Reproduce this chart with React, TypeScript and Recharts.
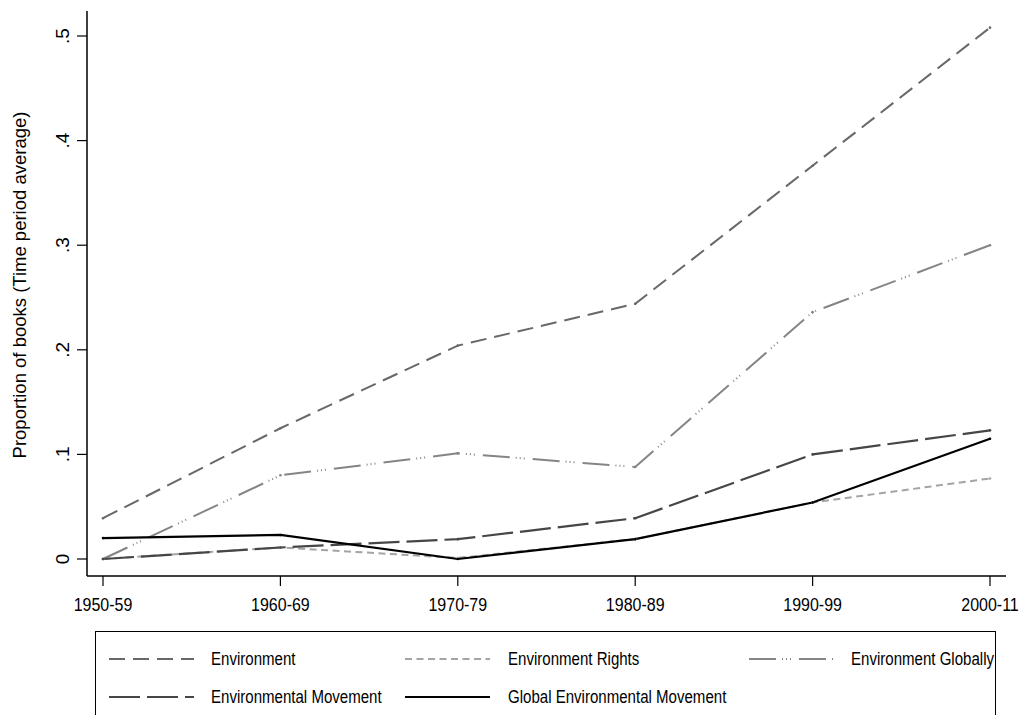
import React from 'react';
import { LineChart, Line, XAxis, YAxis, Legend } from 'recharts';

const periods = ['1950-59', '1960-69', '1970-79', '1980-89', '1990-99', '2000-11'];
const environment = [0.039, 0.125, 0.204, 0.244, 0.376, 0.508];
const environmentRights = [0, 0.011, 0.001, 0.019, 0.054, 0.077];
const environmentGlobally = [0, 0.08, 0.101, 0.088, 0.236, 0.3];
const environmentalMovement = [0, 0.011, 0.019, 0.039, 0.1, 0.123];
const globalEnvironmentalMovement = [0.02, 0.023, 0, 0.019, 0.054, 0.115];
const yTicks = [0, 0.1, 0.2, 0.3, 0.4, 0.5];

const data = periods.map((p, i) => ({
  period: p,
  env: environment[i],
  rights: environmentRights[i],
  globally: environmentGlobally[i],
  movement: environmentalMovement[i],
  globalMovement: globalEnvironmentalMovement[i],
}));

const FONT = "'Liberation Sans', Arial, sans-serif";

const series = [
  { key: 'env', name: 'Environment', color: '#686868', dash: '16 8', width: 2 },
  { key: 'rights', name: 'Environment Rights', color: '#a4a4a4', dash: '7 4.5', width: 2 },
  { key: 'globally', name: 'Environment Globally', color: '#858585', dash: '27 6 1 3 1 3 1 8', width: 2 },
  { key: 'movement', name: 'Environmental Movement', color: '#464646', dash: '31 7', width: 2.2 },
  { key: 'globalMovement', name: 'Global Environmental Movement', color: '#000000', dash: undefined, width: 2.2 },
];

const legendPos = [
  { sx: 13, tx: 115, row: 0 },
  { sx: 309, tx: 412, row: 0 },
  { sx: 653, tx: 755, row: 0 },
  { sx: 13, tx: 115, row: 1 },
  { sx: 309, tx: 412, row: 1 },
];
const rowY = [28, 66];

const fmt = (v: number) => (v === 0 ? '0' : String(v).replace('0.', '.'));

const XTick = (props: any) => {
  const { x, y, payload } = props;
  return (
    <text
      x={0}
      y={0}
      transform={`translate(${x}, ${y}) scale(0.865, 1)`}
      textAnchor="middle"
      dy="0.71em"
      fontSize={18.5}
      fontFamily={FONT}
      fill="#000"
    >
      {payload.value}
    </text>
  );
};

const YTick = (props: any) => {
  const { y, payload } = props;
  const cx = 62;
  return (
    <text
      x={0}
      y={0}
      transform={`translate(${cx}, ${y}) rotate(-90)`}
      textAnchor="middle"
      dy="0.36em"
      fontSize={19}
      fontFamily={FONT}
      fill="#000"
    >
      {fmt(payload.value)}
    </text>
  );
};

const YLabel = () => (
  <text
    x={0}
    y={0}
    transform="translate(19.5, 285) rotate(-90)"
    textAnchor="middle"
    dy="0.35em"
    fontSize={18.5}
    fontFamily={FONT}
    fill="#000"
  >
    Proportion of books (Time period average)
  </text>
);

const LegendBox = () => (
  <div
    style={{
      position: 'relative',
      width: 901,
      height: 110,
      border: '1.5px solid #000',
      boxSizing: 'border-box',
      background: '#fff',
      fontFamily: FONT,
    }}
  >
    {series.map((s, i) => {
      const p = legendPos[i];
      const cy = rowY[p.row];
      return (
        <React.Fragment key={s.key}>
          <svg
            width={85}
            height={8}
            style={{ position: 'absolute', left: p.sx, top: cy - 4 - 1.5 }}
          >
            <line
              x1={0}
              y1={4}
              x2={85}
              y2={4}
              stroke={s.color}
              strokeWidth={s.width}
              strokeDasharray={s.dash}
            />
          </svg>
          <span
            style={{
              position: 'absolute',
              left: p.tx,
              top: cy - 11 - 1.5,
              height: 22,
              lineHeight: '22px',
              fontSize: 17.5,
              color: '#000',
              whiteSpace: 'nowrap',
              transform: 'scaleX(0.86)',
              transformOrigin: 'left center',
            }}
          >
            {s.name}
          </span>
        </React.Fragment>
      );
    })}
  </div>
);

export default function App() {
  const domain: [number, number] = [-0.01625, 0.5239];
  return (
    <div
      style={{
        position: 'absolute',
        left: 0,
        top: 0,
        width: 1021,
        height: 715,
        overflow: 'hidden',
        background: '#fff',
      }}
    >
      <LineChart
        width={1021}
        height={715}
        data={data}
        margin={{ top: 11, right: 15, bottom: 109, left: 7 }}
      >
        <XAxis
          dataKey="period"
          height={30}
          padding={{ left: 16, right: 16 }}
          tickSize={10}
          tickMargin={12}
          axisLine={{ stroke: '#000', strokeWidth: 1.5 }}
          tickLine={{ stroke: '#000', strokeWidth: 1.2 }}
          tick={<XTick />}
          interval={0}
        />
        <XAxis
          xAxisId="top"
          dataKey="period"
          orientation="top"
          height={0}
          padding={{ left: 16, right: 16 }}
          tick={false}
          tickLine={false}
          axisLine={{ stroke: '#000', strokeWidth: 1.5 }}
        />
        <YAxis
          type="number"
          domain={domain}
          ticks={yTicks}
          width={80}
          tickSize={10}
          axisLine={{ stroke: '#000', strokeWidth: 1.5 }}
          tickLine={{ stroke: '#000', strokeWidth: 1.2 }}
          tick={<YTick />}
          interval={0}
          label={{ content: () => <YLabel /> }}
        />
        <YAxis
          yAxisId="right"
          orientation="right"
          type="number"
          domain={domain}
          width={0}
          tick={false}
          tickLine={false}
          axisLine={{ stroke: '#000', strokeWidth: 1.5 }}
        />
        <Legend
          layout="horizontal"
          verticalAlign="middle"
          align="center"
          wrapperStyle={{ position: 'absolute', left: 95, top: 631, width: 901, height: 110 }}
          content={() => <LegendBox />}
        />
        {series.map((s) => (
          <Line
            key={s.key}
            type="linear"
            dataKey={s.key}
            name={s.name}
            stroke={s.color}
            strokeWidth={s.width}
            strokeDasharray={s.dash}
            dot={{ r: 1.3, fill: s.color, stroke: s.color, strokeWidth: 0, strokeDasharray: '' }}
            activeDot={false}
            isAnimationActive={false}
          />
        ))}
      </LineChart>
    </div>
  );
}
